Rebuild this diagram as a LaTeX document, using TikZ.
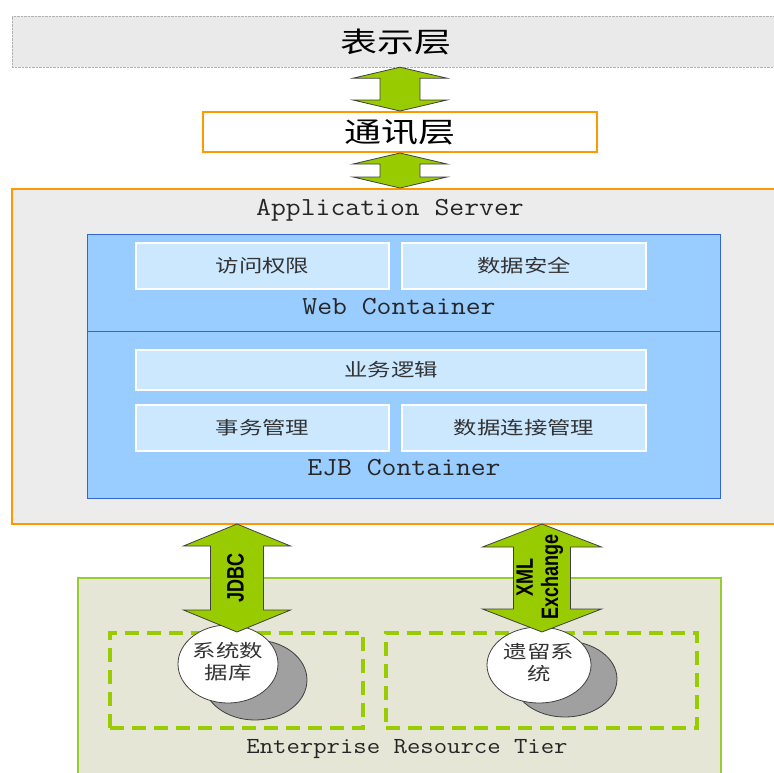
\documentclass[tikz,border=0pt]{standalone}
\usepackage{graphicx}
\usepackage{fontspec}
\setsansfont{Liberation Sans}
\newfontfamily\cjk{Noto Sans CJK SC}
\usetikzlibrary{calc,shapes.geometric}

\definecolor{presgray}{HTML}{EAEAEA}
\definecolor{appgray}{HTML}{ECECEC}
\definecolor{layerorange}{HTML}{FF9900}
\definecolor{contblue}{HTML}{99CCFF}
\definecolor{contline}{HTML}{3366CC}
\definecolor{modblue}{HTML}{CCE8FF}
\definecolor{arrowgreen}{HTML}{99CC00}
\definecolor{entfill}{HTML}{E6E6D6}
\definecolor{entline}{HTML}{99CC33}
\definecolor{diskgray}{HTML}{A0A0A0}
\definecolor{textgray}{HTML}{333333}

\newcommand\wide[2]{\scalebox{#1}[1]{#2}}
% tip top, tip bottom, shaft half width, head half width, head length
\newcommand\blockarrow[5]{%
  \draw[arrowbody] (#1) -- ++(#4,#5) -- ++({#3-#4},0) -- ($(#2)+(#3,-#5)$)
    -- ++({#4-#3},0) -- (#2) -- ++(-#4,-#5) -- ++({#4-#3},0)
    -- ($(#1)+(-#3,#5)$) -- ++({#3-#4},0) -- cycle;}

\begin{document}
\begin{tikzpicture}[x=1pt,y=-1pt,
    cjkbig/.style={font=\cjk\fontsize{28}{30}\selectfont},
    cjksmall/.style={font=\cjk\fontsize{18}{22}\selectfont, text=textgray},
    monotitle/.style={font=\ttfamily\fontsize{26}{28}\selectfont, text=black!85},
    presbox/.style={draw=gray!60, densely dotted, fill=presgray, minimum width=768pt, minimum height=51pt},
    layerbox/.style={draw=layerorange, line width=2pt, minimum width=#1},
    contbox/.style={draw=contline, line width=1pt, fill=contblue, minimum width=633pt},
    modbox/.style={draw=white, line width=1.5pt, fill=modblue, minimum width=#1, minimum height=46pt, cjksmall},
    zonebox/.style={draw=arrowgreen, line width=4pt, dash pattern=on 14pt off 8pt, minimum height=95pt, minimum width=#1},
    diskshadow/.style={draw=black!75, line width=.8pt, fill=diskgray},
    disk/.style={ellipse, draw=black!75, line width=.8pt, fill=white, inner sep=0pt, cjksmall},
    arrowbody/.style={draw=black!75, line width=.8pt, fill=arrowgreen},
    arrowtext/.style={rotate=90, font=\sffamily\bfseries\fontsize{18}{19}\selectfont}]
  \useasboundingbox (0,0) rectangle (774,772);
  \clip (0,0) rectangle (774,772);

  % Presentation and communication layers
  \node[presbox, cjkbig] (pres) at (396,41.5) {\wide{1.32}{表示层}};
  \node[layerbox=394pt, fill=white, minimum height=40pt, cjkbig] (comm) at (400,132) {\wide{1.32}{通讯层}};

  % Application server
  \node[layerbox=768pt, fill=appgray, minimum height=335pt] (app) at (396,356.5) {};
  \node[monotitle] (apptitle) at (390,210) {\wide{1.11}{Application Server}};

  % Web container
  \node[contbox, minimum height=97pt] (web) at (403.5,282.5) {};
  \node[modbox=253pt] (access) at (262.5,266) {\wide{1.3}{访问权限}};
  \node[modbox=244pt] (datasec) at (524,266) {\wide{1.3}{数据安全}};
  \node[monotitle] (webtitle) at (399,307) {\wide{1.11}{Web Container}};

  % EJB container
  \node[contbox, minimum height=167pt] (ejb) at (403.5,414.5) {};
  \node[modbox=510pt, minimum height=40pt] (logic) at (391,370) {\wide{1.3}{业务逻辑}};
  \node[modbox=253pt] (trans) at (262.5,428) {\wide{1.3}{事务管理}};
  \node[modbox=244pt] (conn) at (524,428) {\wide{1.3}{数据连接管理}};
  \node[monotitle] (ejbtitle) at (404,468) {\wide{1.11}{EJB Container}};

  % Enterprise resource tier
  \node[draw=entline, line width=2pt, fill=entfill, minimum width=643pt, minimum height=212pt] (ent) at (399.5,684) {};
  \node[monotitle, font=\ttfamily\fontsize{23}{25}\selectfont] (enttitle) at (407,749) {\wide{1.13}{Enterprise Resource Tier}};
  \node[zonebox=253pt] (dbzone) at (236.5,680.5) {};
  \node[zonebox=311pt] (legzone) at (541.5,680.5) {};

  % Disks
  \draw[diskshadow] (255,680) ellipse [x radius=52pt, y radius=40pt];
  \node[disk, minimum width=100pt, minimum height=78pt] (sysdb) at (228,664)
    {\wide{1.3}{\begin{tabular}{@{}c@{}}系统数\\据库\end{tabular}}};
  \draw[diskshadow] (565,679) ellipse [x radius=52pt, y radius=38pt];
  \node[disk, minimum width=104pt, minimum height=76pt] (legacy) at (539,665)
    {\wide{1.3}{\begin{tabular}{@{}c@{}}遗留系\\统\end{tabular}}};

  % Arrows
  \blockarrow{pres.south -| comm.north}{comm.north}{20}{47}{11}
  \blockarrow{comm.south}{app.north -| comm.south}{20}{47}{11}
  \coordinate (jdbctop) at (237,524);
  \coordinate (jdbcbot) at (237,632);
  \blockarrow{jdbctop}{jdbcbot}{26.5}{53.5}{22}
  \coordinate (xmltop) at (542,524);
  \coordinate (xmlbot) at (542,632);
  \blockarrow{xmltop}{xmlbot}{28.5}{59.5}{23}
  \node[arrowtext] (jdbclbl) at (235.5,577.5) {\scalebox{1}[1.32]{JDBC}};
  \node[arrowtext] (xmllbl) at (540.5,577) {\scalebox{1}[1.32]{\begin{tabular}{@{}c@{}}XML\\Exchange\end{tabular}}};
\end{tikzpicture}
\end{document}
